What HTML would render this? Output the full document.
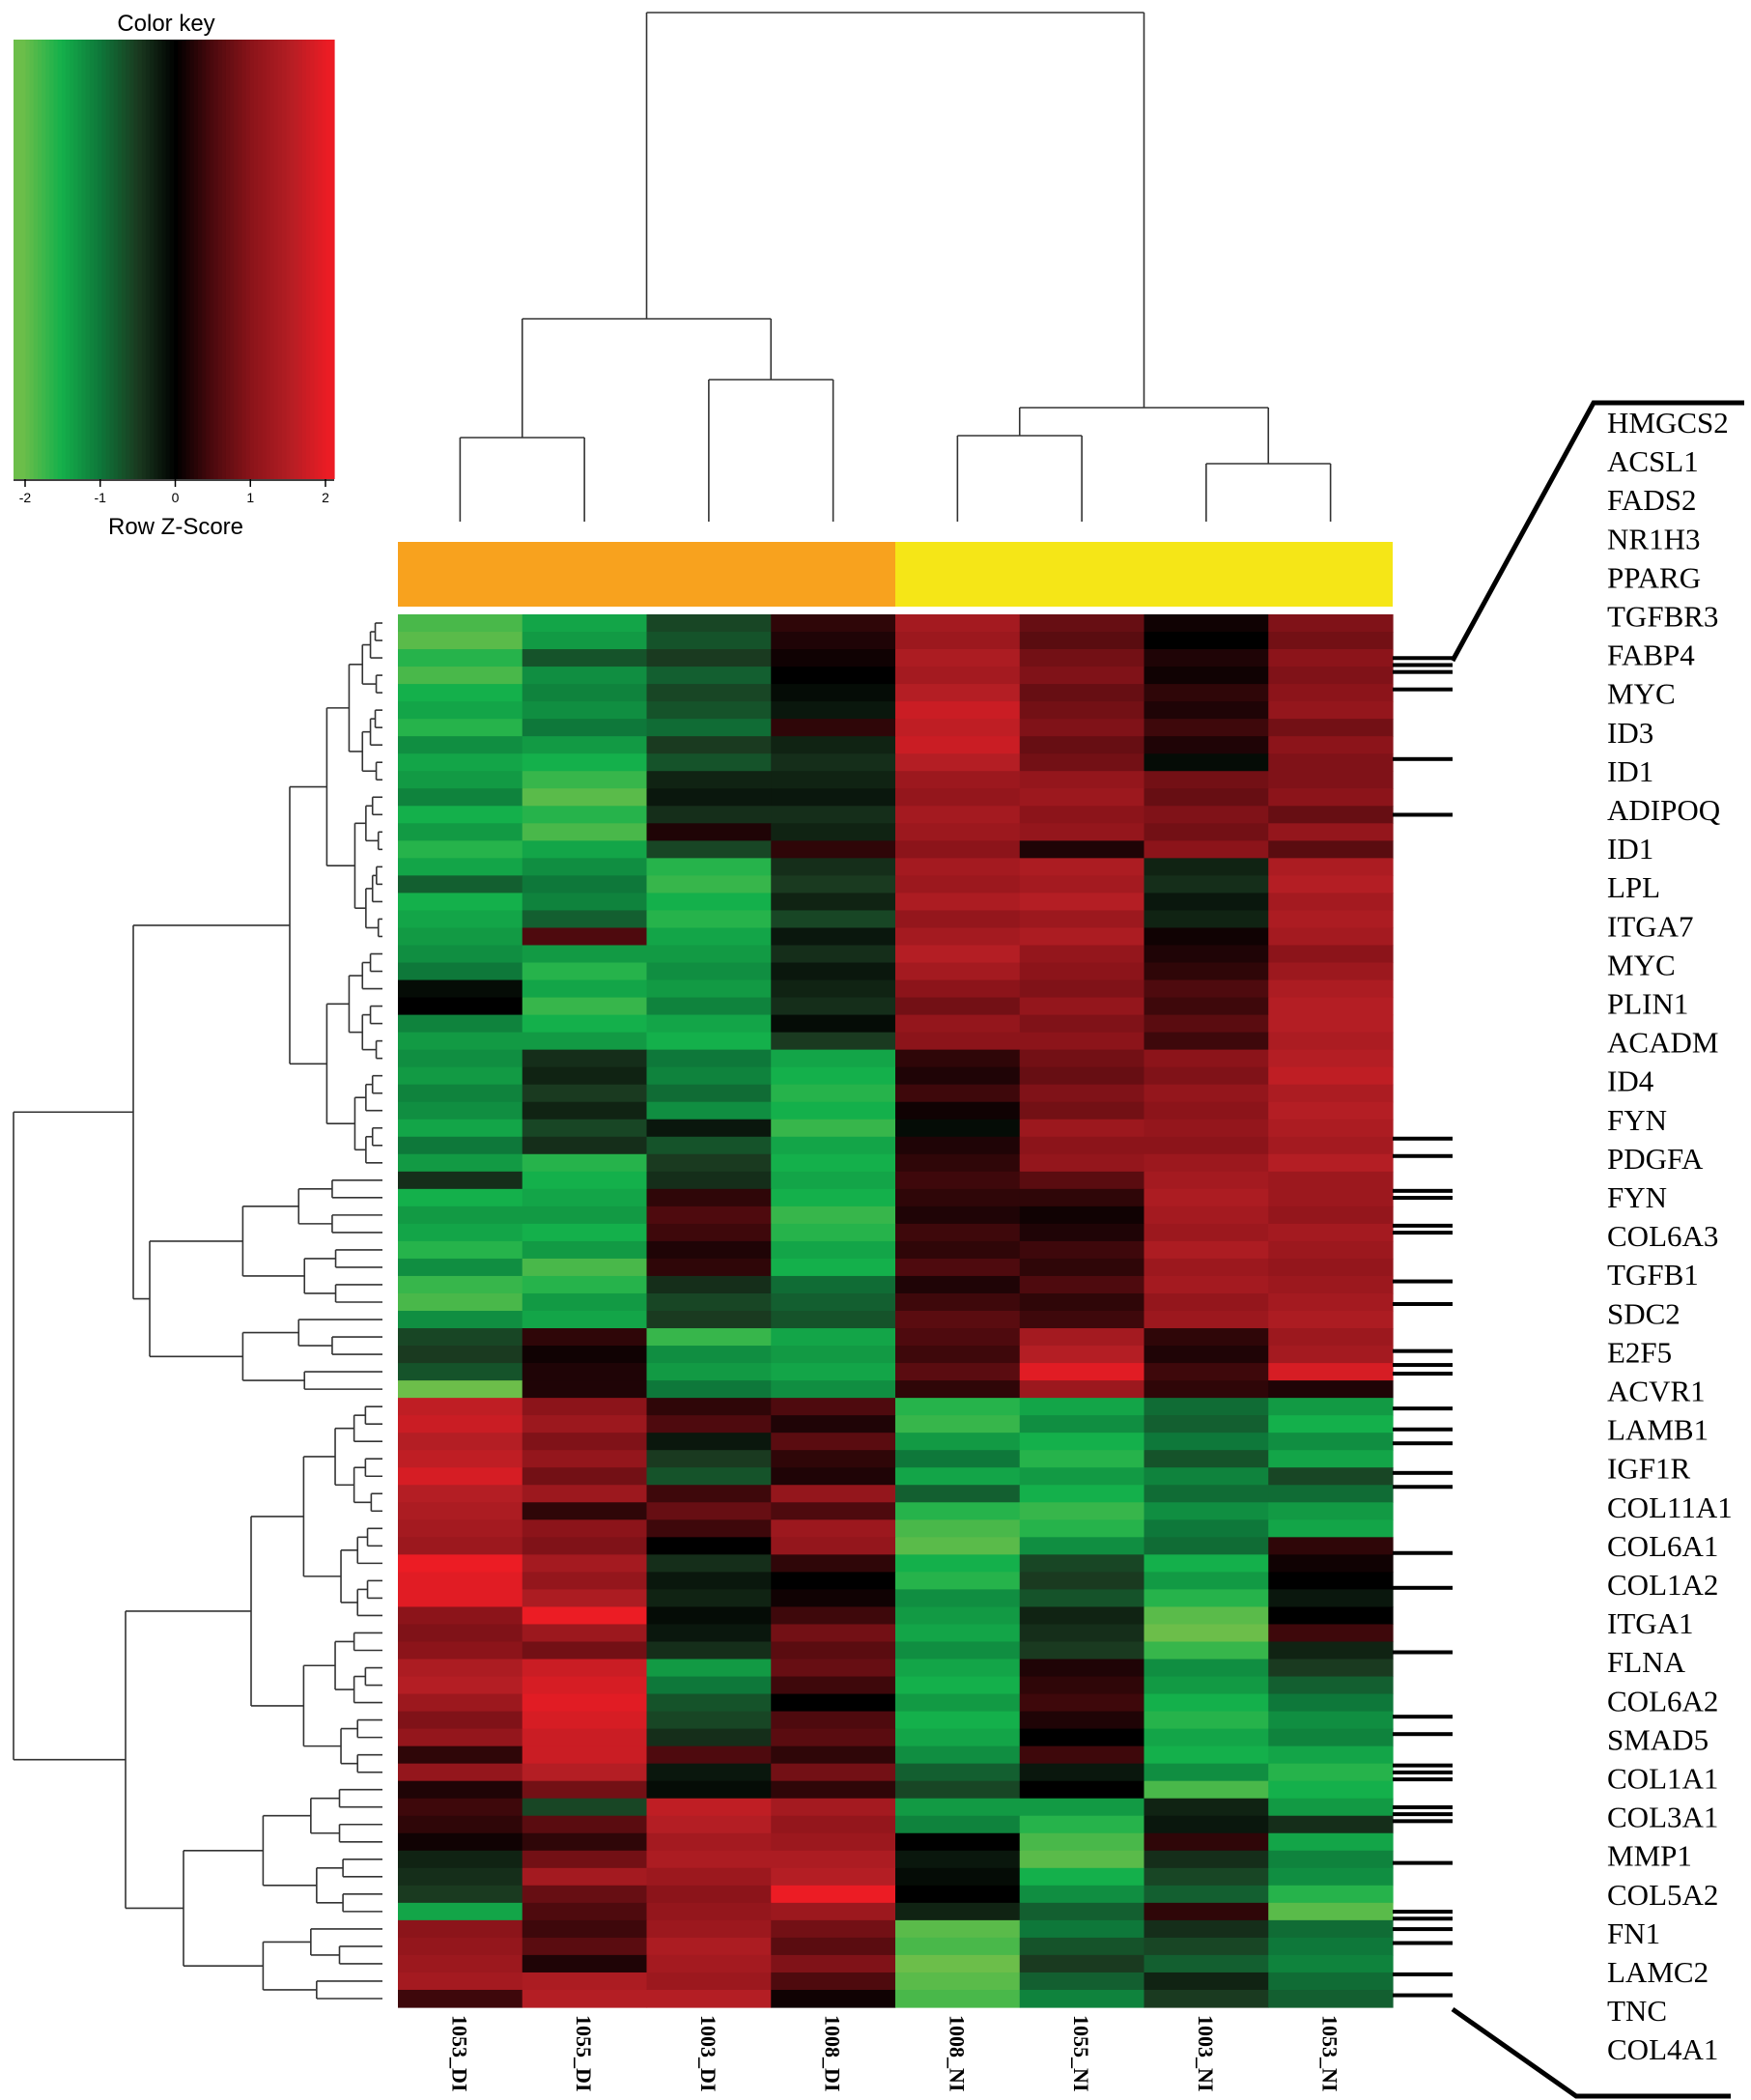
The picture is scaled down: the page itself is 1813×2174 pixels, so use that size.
<!DOCTYPE html>
<html><head><meta charset="utf-8"><style>
body{margin:0;background:#fff;width:1813px;height:2174px;overflow:hidden}
svg{display:block}
</style></head><body>
<svg id="chart" width="1813" height="2174" xmlns="http://www.w3.org/2000/svg">
<g id="key"></g>
<g id="coldend"></g>
<g id="sidebar"></g>
<g id="rowdend"></g>
<g id="cells"></g>
<g id="collabels"></g>
<g id="marks"></g>
<g id="genes"></g>
</svg>
<script>
const samples=["1053_DI","1055_DI","1003_DI","1008_DI","1008_NI","1055_NI","1003_NI","1053_NI"];
const keyTicks=[-2,-1,0,1,2];
const genes=["HMGCS2","ACSL1","FADS2","NR1H3","PPARG","TGFBR3","FABP4","MYC","ID3","ID1","ADIPOQ","ID1","LPL","ITGA7","MYC","PLIN1","ACADM","ID4","FYN","PDGFA","FYN","COL6A3","TGFB1","SDC2","E2F5","ACVR1","LAMB1","IGF1R","COL11A1","COL6A1","COL1A2","ITGA1","FLNA","COL6A2","SMAD5","COL1A1","COL3A1","MMP1","COL5A2","FN1","LAMC2","TNC","COL4A1"];
const markedRows=[2.4,2.8,3.2,4.2,8.2,11.4,30,31,33,33.4,35,35.4,38.2,39.5,42.2,43,43.5,45.5,46.7,47.5,49.2,50,53.8,55.8,59.5,63.2,64.2,66,66.4,66.8,68.4,68.8,69.2,71.6,74.4,74.8,75.4,76.2,78,79.2];
const values=[
[-1.8,-1.4,-0.6,0.3,1.3,0.7,0.1,0.9],
[-1.9,-1.3,-0.7,0.2,1.2,0.6,0.0,0.8],
[-1.6,-0.7,-0.5,0.1,1.4,0.8,0.2,1.0],
[-1.8,-1.2,-0.8,0.0,1.3,0.9,0.1,0.9],
[-1.5,-1.1,-0.6,-0.1,1.5,0.7,0.3,1.0],
[-1.4,-1.2,-0.7,-0.2,1.7,0.8,0.2,1.1],
[-1.6,-1.0,-0.9,0.3,1.6,0.9,0.4,0.8],
[-1.2,-1.3,-0.5,-0.3,1.7,0.7,0.2,1.0],
[-1.4,-1.5,-0.7,-0.4,1.5,0.8,-0.1,0.9],
[-1.3,-1.7,-0.3,-0.3,1.2,1.1,0.8,0.9],
[-1.1,-1.9,-0.2,-0.2,1.1,1.2,0.7,1.0],
[-1.5,-1.6,-0.4,-0.4,1.3,1.0,0.9,0.7],
[-1.3,-1.8,0.2,-0.3,1.2,1.1,0.8,1.1],
[-1.6,-1.4,-0.6,0.3,1.0,0.2,1.0,0.6],
[-1.4,-1.2,-1.6,-0.4,1.3,1.4,-0.3,1.4],
[-0.8,-1.0,-1.7,-0.5,1.2,1.3,-0.4,1.5],
[-1.5,-1.1,-1.5,-0.3,1.4,1.5,-0.2,1.3],
[-1.4,-0.8,-1.6,-0.6,1.1,1.2,-0.3,1.4],
[-1.3,0.5,-1.4,-0.2,1.3,1.4,0.1,1.3],
[-1.2,-1.3,-1.3,-0.4,1.5,1.1,0.2,1.0],
[-1.0,-1.6,-1.2,-0.2,1.3,1.0,0.3,1.2],
[-0.1,-1.4,-1.3,-0.3,1.0,0.9,0.5,1.4],
[0.0,-1.7,-1.1,-0.4,0.8,1.1,0.4,1.5],
[-1.1,-1.5,-1.4,-0.1,1.1,0.9,0.6,1.5],
[-1.3,-1.3,-1.5,-0.5,1.0,1.0,0.4,1.4],
[-1.2,-0.4,-1.0,-1.4,0.3,0.8,1.0,1.5],
[-1.3,-0.3,-1.1,-1.5,0.2,0.7,0.9,1.6],
[-1.1,-0.5,-0.9,-1.6,0.4,0.9,1.1,1.4],
[-1.2,-0.3,-1.2,-1.5,0.1,0.8,1.0,1.5],
[-1.4,-0.6,-0.2,-1.7,-0.1,1.2,1.1,1.4],
[-1.0,-0.4,-0.7,-1.4,0.2,1.0,1.0,1.3],
[-1.3,-1.6,-0.5,-1.5,0.3,1.1,1.2,1.5],
[-0.4,-1.5,-0.4,-1.4,0.4,0.6,1.3,1.2],
[-1.5,-1.4,0.3,-1.5,0.3,0.3,1.4,1.2],
[-1.3,-1.3,0.5,-1.7,0.2,0.1,1.3,1.1],
[-1.4,-1.5,0.4,-1.6,0.4,0.2,1.2,1.3],
[-1.6,-1.3,0.2,-1.4,0.3,0.4,1.4,1.2],
[-1.2,-1.8,0.3,-1.5,0.5,0.3,1.2,1.1],
[-1.7,-1.6,-0.4,-0.9,0.2,0.5,1.3,1.2],
[-1.8,-1.3,-0.6,-0.8,0.4,0.3,1.1,1.3],
[-1.2,-1.4,-0.5,-0.7,0.6,0.4,1.2,1.4],
[-0.6,0.3,-1.7,-1.4,0.5,1.3,0.3,1.2],
[-0.5,0.1,-1.2,-1.3,0.4,1.5,0.2,1.3],
[-0.7,0.2,-1.3,-1.4,0.6,1.9,0.4,1.8],
[-2.0,0.2,-1.0,-1.2,0.3,1.2,0.3,0.2],
[1.6,1.0,0.3,0.5,-1.6,-1.4,-0.9,-1.3],
[1.7,1.2,0.5,0.2,-1.7,-1.2,-0.8,-1.5],
[1.5,0.9,-0.2,0.6,-1.3,-1.5,-1.0,-1.2],
[1.6,1.1,-0.5,0.3,-1.0,-1.6,-0.7,-1.4],
[1.8,0.8,-0.7,0.2,-1.4,-1.3,-1.1,-0.6],
[1.5,1.2,0.4,1.1,-0.8,-1.5,-0.9,-0.9],
[1.4,0.3,0.7,0.5,-1.6,-1.7,-1.2,-1.3],
[1.3,1.0,0.4,1.2,-1.8,-1.6,-1.0,-1.4],
[1.2,0.9,0.0,1.1,-1.9,-1.2,-0.9,0.3],
[2.0,1.3,-0.4,0.3,-1.5,-0.6,-1.5,0.1],
[1.9,1.1,-0.2,0.0,-1.6,-0.5,-1.3,0.0],
[1.9,1.4,-0.3,0.1,-1.2,-0.7,-1.6,-0.2],
[1.0,2.0,-0.1,0.4,-1.3,-0.3,-1.9,0.0],
[0.9,1.2,-0.2,0.8,-1.4,-0.4,-2.0,0.4],
[1.0,0.8,-0.4,0.6,-1.2,-0.5,-1.7,-0.3],
[1.4,1.7,-1.3,0.7,-1.4,0.2,-1.2,-0.5],
[1.5,1.8,-1.0,0.4,-1.5,0.3,-1.3,-0.8],
[1.2,1.9,-0.7,0.0,-1.3,0.4,-1.5,-1.0],
[0.9,1.8,-0.6,0.5,-1.5,0.2,-1.6,-1.2],
[1.1,1.7,-0.4,0.6,-1.4,0.0,-1.4,-1.1],
[0.3,1.7,0.5,0.3,-1.2,0.4,-1.5,-1.4],
[1.1,1.5,-0.2,0.8,-0.8,-0.2,-1.2,-1.6],
[0.2,0.8,-0.1,0.3,-0.6,0.0,-1.8,-1.5],
[0.4,-0.6,1.6,1.3,-1.3,-1.3,-0.3,-1.3],
[0.3,0.6,1.5,1.1,-1.1,-1.6,-0.2,-0.4],
[0.1,0.3,1.3,1.2,0.0,-1.8,0.3,-1.4],
[-0.3,0.8,1.4,1.4,-0.2,-1.9,-0.4,-1.1],
[-0.4,1.3,1.2,1.5,-0.1,-1.5,-0.6,-1.2],
[-0.5,0.7,1.0,2.0,0.0,-1.2,-0.8,-1.6],
[-1.4,0.5,1.1,1.2,-0.3,-0.8,0.3,-1.9],
[1.0,0.4,1.2,0.8,-1.9,-1.0,-0.4,-0.9],
[1.1,0.6,1.4,0.6,-1.8,-0.7,-0.6,-1.0],
[1.2,0.2,1.3,0.9,-2.0,-0.5,-0.8,-1.1],
[1.3,1.4,1.2,0.5,-1.9,-0.8,-0.3,-0.9],
[0.4,1.5,1.5,0.1,-1.8,-1.1,-0.5,-0.8]
];
const NS="http://www.w3.org/2000/svg";
function mk(parent,tag,attrs){const e=document.createElementNS(NS,tag);for(const k in attrs)e.setAttribute(k,attrs[k]);parent.appendChild(e);return e;}
const stops=[[-2,[108,190,74]],[-1.5,[20,176,75]],[-1,[14,120,58]],[-0.5,[26,58,32]],[0,[0,0,0]],[0.5,[78,10,14]],[1,[140,20,26]],[1.5,[180,30,36]],[2,[236,28,36]]];
function col(v){v=Math.max(-2,Math.min(2,v));for(let i=0;i<stops.length-1;i++){const a=stops[i],b=stops[i+1];if(v<=b[0]){const t=(v-a[0])/(b[0]-a[0]);const c=a[1].map((x,j)=>Math.round(x+(b[1][j]-x)*t));return `rgb(${c.join(',')})`;}}return "rgb(236,28,36)";}
const HX=412,HX2=1442,HY=636,HY2=2078;
const cw=(HX2-HX)/samples.length, rh=(HY2-HY)/values.length;
const xOf=c=>HX+c*cw, yOf=r=>HY+r*rh;
const cells=document.getElementById('cells');
values.forEach((row,r)=>row.forEach((v,c)=>{
  const e=mk(cells,'rect',{x:xOf(c),y:yOf(r),width:cw+0.6,height:rh+0.6,fill:col(v)});
  
  
}));
const key=document.getElementById('key');
const KX=14,KX2=346,KY=41,KY2=496;
const kx=v=>26+(v+2)*(337-26)/4;
for(let i=0;i<80;i++){const v=-2.1+i*4.2/80;mk(key,'rect',{x:KX+i*(KX2-KX)/80,y:KY,width:(KX2-KX)/80+0.6,height:KY2-KY,fill:col(v)});}
let tt0=mk(key,'text',{x:172,y:32,'font-family':'Liberation Sans, sans-serif','font-size':24,'text-anchor':'middle'});tt0.textContent="Color key";


mk(key,'line',{x1:KX,x2:KX2,y1:KY2+1,y2:KY2+1,stroke:'#000','stroke-width':1.5});
keyTicks.forEach(v=>{mk(key,'line',{x1:kx(v),x2:kx(v),y1:KY2,y2:KY2+8,stroke:'#000','stroke-width':1.5});
 const tt=mk(key,'text',{x:kx(v),y:520,'font-family':'Liberation Sans, sans-serif','font-size':14,'text-anchor':'middle'});tt.textContent=v;
 
 });
let tt1=mk(key,'text',{x:182,y:553,'font-family':'Liberation Sans, sans-serif','font-size':24,'text-anchor':'middle'});tt1.textContent="Row Z-Score";


const sb=document.getElementById('sidebar');
mk(sb,'rect',{x:HX,y:561,width:cw*4,height:67,fill:'#f8a21e'});
mk(sb,'rect',{x:HX+cw*4,y:561,width:cw*4,height:67,fill:'#f5e617'});
const cd=document.getElementById('coldend');
const L=(g,x1,y1,x2,y2,w)=>mk(g,'line',{x1:x1,y1:y1,x2:x2,y2:y2,stroke:'#333','stroke-width':w||1.6});
function cx(c){return xOf(c)+cw/2;}
function elbow(g,xa,ya,xb,yb,yj){L(g,xa,ya,xa,yj);L(g,xb,yb,xb,yj);L(g,xa,yj,xb,yj);}
const leafY=540;
elbow(cd,cx(0),leafY,cx(1),leafY,453);
elbow(cd,cx(2),leafY,cx(3),leafY,393);
elbow(cd,(cx(0)+cx(1))/2,453,(cx(2)+cx(3))/2,393,330);
elbow(cd,cx(4),leafY,cx(5),leafY,451);
elbow(cd,cx(6),leafY,cx(7),leafY,480);
elbow(cd,(cx(4)+cx(5))/2,451,(cx(6)+cx(7))/2,480,422);
const lc=((cx(0)+cx(1))/2+(cx(2)+cx(3))/2)/2, rc=((cx(4)+cx(5))/2+(cx(6)+cx(7))/2)/2;
elbow(cd,lc,330,rc,422,13);
const cl=document.getElementById('collabels');
samples.forEach((s,c)=>{const e=mk(cl,'text',{x:0,y:0,transform:`translate(${cx(c)-8},2086) rotate(90)`,'font-family':'Liberation Serif, serif','font-size':22,'font-weight':'bold'});e.textContent=s;
 
 });
const rd=document.getElementById('rowdend');
const LEAF=396;
function tree(lo,hi,x,depth){
  if(hi-lo===1)return yOf(lo)+rh/2;
  const n=hi-lo;let m=lo+Math.max(1,Math.round(n*((depth%3===0)?0.55:(depth%3===1)?0.45:0.6)));
  if(m>=hi)m=hi-1;
  const nx=x+(LEAF-x)*(depth<2?0.35:0.4);
  const nx2=nx+(depth%2?6:0);
  const ya=tree(lo,m,nx,depth+1), yb=tree(m,hi,nx2,depth+1);
  const xa=(m-lo===1)?LEAF:nx, xb=(hi-m===1)?LEAF:nx2;
  L(rd,x,ya,xa,ya);L(rd,x,yb,xb,yb);L(rd,x,ya,x,yb);
  return (ya+yb)/2;
}
function joinPair(lo,mid,hi,x,xa,xb){const y1=tree(lo,mid,xa,2),y2=tree(mid,hi,xb,2);L(rd,x,y1,xa,y1);L(rd,x,y2,xb,y2);L(rd,x,y1,x,y2);return (y1+y2)/2;}
const topY=joinPair(0,32,45,138,300,155);
const botY=joinPair(45,67,80,130,260,190);
L(rd,14,topY,138,topY);L(rd,14,botY,130,botY);L(rd,14,topY,14,botY);
const mg=document.getElementById('marks');
markedRows.forEach(r=>{const e=mk(mg,'rect',{x:1442,y:yOf(r),width:62,height:4,fill:'#000'});
 
 });
mk(mg,'polyline',{points:'1504,684 1650,417 1806,417',fill:'none',stroke:'#000','stroke-width':5});
mk(mg,'polyline',{points:'1504,2080 1632,2170 1792,2170',fill:'none',stroke:'#000','stroke-width':5});
const gg=document.getElementById('genes');
genes.forEach((g,i)=>{const e=mk(gg,'text',{x:1664,y:448+i*40.1,'font-family':'Liberation Serif, serif','font-size':31});e.textContent=g;
 
 });
</script>
</body></html>
